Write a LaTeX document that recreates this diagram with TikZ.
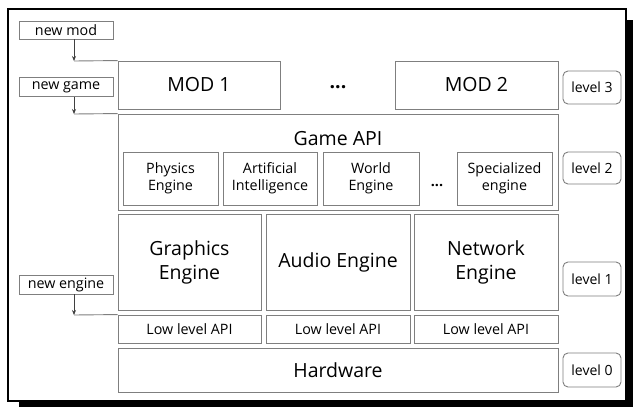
\documentclass[tikz,border=0pt]{standalone}
\usepackage{fontspec}
\setmainfont{Open Sans}
\usetikzlibrary{arrows.meta}
\definecolor{boxgray}{HTML}{7F7F7F}
\tikzset{
  box/.style={draw=boxgray, line width=0.9pt, inner sep=0pt, align=center, anchor=center},
  bigtxt/.style={font=\fontsize{19.5}{24}\selectfont},
  smalltxt/.style={font=\fontsize{14.3}{17}\selectfont},
  lvl/.style={draw=boxgray, line width=0.9pt, rounded corners=5pt, minimum width=58pt, inner sep=0pt, font=\fontsize{14}{16}\selectfont},
  arr/.style={draw=black!75, line width=0.8pt, -{Stealth[length=5pt,width=4pt]}},
  feed/.style={draw=boxgray, line width=0.9pt},
}
\begin{document}
\begin{tikzpicture}[x=1pt,y=-1pt]
\useasboundingbox (0,0) rectangle (633,407);
% frame with shadow
\fill[black] (19,20) rectangle (633,407);
\draw[fill=white, line width=2pt] (8,9) rectangle (626,401);

% left feeders
\node[box, smalltxt, minimum width=94pt, minimum height=18pt] (newmod) at (66,30) {new mod};
\node[box, smalltxt, minimum width=94pt, minimum height=19pt] (newgame) at (66,87) {new game};
\node[box, smalltxt, minimum width=94pt, minimum height=19pt] (newengine) at (66,284.5) {new engine};

% level 3
\node[box, bigtxt, minimum width=162pt, minimum height=48pt] (mod1) at (199,85) {MOD 1};
\node[bigtxt] (dots1) at (338,87) {\textbf{...}};
\node[box, bigtxt, minimum width=163pt, minimum height=48pt] (mod2) at (476.5,85) {MOD 2};

% level 2
\node[box, minimum width=440pt, minimum height=96pt] (gameapi) at (338,162) {};
\node[bigtxt] (gametitle) at (338,139) {Game API};
\node[box, smalltxt, minimum width=95pt, minimum height=53pt] (physics) at (170.5,178.5) {Physics\\Engine};
\node[box, smalltxt, minimum width=94pt, minimum height=53pt] (ai) at (270,178.5) {Artificial\\Intelligence};
\node[box, smalltxt, minimum width=96pt, minimum height=53pt] (world) at (371,178.5) {World\\Engine};
\node[smalltxt] (dots2) at (437,185) {\textbf{...}};
\node[box, smalltxt, minimum width=95pt, minimum height=53pt] (spec) at (504.5,178.5) {Specialized\\engine};

% level 1
\node[box, bigtxt, minimum width=143pt, minimum height=96pt] (graphics) at (189.5,262) {Graphics\\Engine};
\node[box, bigtxt, minimum width=144pt, minimum height=96pt] (audio) at (338,262) {Audio Engine};
\node[box, bigtxt, minimum width=144pt, minimum height=96pt] (network) at (486,262) {Network\\Engine};
\node[box, smalltxt, minimum width=143pt, minimum height=28pt] (low1) at (189.5,329) {Low level API};
\node[box, smalltxt, minimum width=144pt, minimum height=28pt] (low2) at (338,329) {Low level API};
\node[box, smalltxt, minimum width=144pt, minimum height=28pt] (low3) at (486,329) {Low level API};

% level 0
\node[box, bigtxt, minimum width=440pt, minimum height=44pt] (hardware) at (338,370) {Hardware};

% level labels
\node[lvl, minimum height=33pt] (lv3) at (592,87.5) {level 3};
\node[lvl, minimum height=32pt] (lv2) at (592,168) {level 2};
\node[lvl, minimum height=34pt] (lv1) at (592,279) {level 1};
\node[lvl, minimum height=34pt] (lv0) at (592,370) {level 0};

% connectors
\coordinate (j1) at (74,61);
\coordinate (j2) at (74,114);
\coordinate (j3) at (74,315);
\draw[feed] (j1) -- (mod1.north west);
\draw[feed] (j2) -- (gameapi.north west);
\draw[feed] (j3) -- (low1.north west);
\draw[arr] (newmod.south -| j1) -- (j1);
\draw[arr] (newgame.south -| j2) -- (j2);
\draw[arr] (newengine.south -| j3) -- (j3);
\end{tikzpicture}
\end{document}
